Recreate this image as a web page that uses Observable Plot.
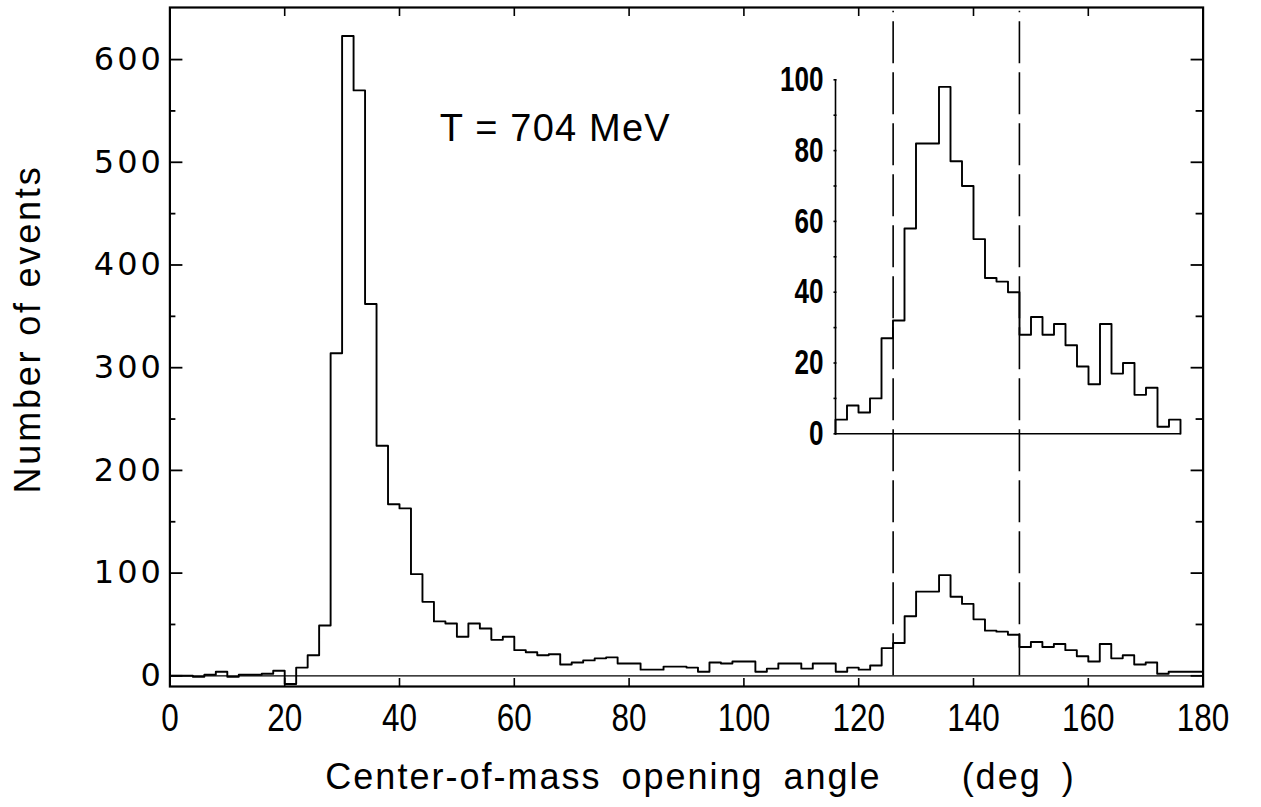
<!DOCTYPE html>
<html><head><meta charset="utf-8">
<script src="https://cdn.jsdelivr.net/npm/d3@7"></script>
<script src="https://cdn.jsdelivr.net/npm/@observablehq/plot@0.6"></script>
<style>
body{margin:0;background:#fff;}
#wrap{position:relative;width:1261px;height:807px;background:#fff;}
#wrap svg{position:absolute;left:0;top:0;}
</style></head><body><div id="wrap"></div>
<script>
// Bin start angles (deg), 2-degree bins
const binStart = [0,2,4,6,8,10,12,14,16,18,20,22,24,26,28,30,32,34,36,38,40,42,44,46,48,50,52,54,56,58,60,62,64,66,68,70,72,74,76,78,80,82,84,86,88,90,92,94,96,98,100,102,104,106,108,110,112,114,116,118,120,122,124,126,128,130,132,134,136,138,140,142,144,146,148,150,152,154,156,158,160,162,164,166,168,170,172,174,176,178];
// Number of events per bin
const counts = [0,0,-1,1,4,-1,1,1,2,5,-8,8,20,49,314,623,570,362,224,167,163,99,72,53,51,38,51,46,35,38,25,23,20,21,11,13,15,17,18,12,12,6,6,9,9,8,4,13,12,14,14,4,7,12,12,7,12,12,4,8,6,10,27,32,58,82,82,98,77,70,55,44,43,40,28,33,28,31,25,19,14,31,17,20,11,13,2,4,4,4];
const binWidth = 2;
const xTicks = [0,20,40,60,80,100,120,140,160,180];
const yTicks = [0,100,200,300,400,500,600];
const yMinorTicks = [50,150,250,350,450,550];
const cutAngles = [126,148];
const insetRange = [116,176];
const insetTicks = [0,20,40,60,80,100];
const insetMinorTicks = [10,30,50,70,90];
const titleText = "T = 704 MeV";
const xTitle = "Center-of-mass opening angle\u00a0\u00a0\u00a0\u00a0(deg\u00a0)";
const yTitle = "Number of events";

function outline(starts, vals, w, closeEnds) {
  const pts = [];
  if (closeEnds) pts.push({x: starts[0], y: 0});
  starts.forEach((s, i) => { pts.push({x: s, y: vals[i]}); pts.push({x: s + w, y: vals[i]}); });
  if (closeEnds) pts.push({x: starts[starts.length - 1] + w, y: 0});
  return pts;
}
const mainPts = outline(binStart, counts, binWidth, false);
const insetIdx = binStart.map((s, i) => i).filter(i => binStart[i] >= insetRange[0] && binStart[i] < insetRange[1]);
const insetPts = outline(insetIdx.map(i => binStart[i]), insetIdx.map(i => counts[i]), binWidth, true);

const sans = "'Liberation Sans', Arial, sans-serif";
const W = 1261, H = 807, mL = 169.4, mR = 58.4, mT = 7, mB = 121;
const fW = W - mL - mR, fH = H - mT - mB;

const main = Plot.plot({
  width: W, height: H, marginLeft: mL, marginRight: mR, marginTop: mT, marginBottom: mB,
  x: {domain: [0, 180]},
  y: {domain: [-10.4, 650.7]},
  style: {background: "transparent", color: "#000"},
  marks: [
    Plot.ruleY([0], {stroke: "#000", strokeWidth: 1.2}),
    Plot.ruleX(cutAngles, {x: d => d, y1: 0, y2: 647, stroke: "#000", strokeWidth: 1.6, strokeDasharray: "42,9"}),
    Plot.line(mainPts, {x: "x", y: "y", stroke: "#000", strokeWidth: 1.9}),
    Plot.frame({stroke: "#000", strokeWidth: 2.2}),
    Plot.tickX(xTicks, {x: d => d, insetTop: fH - 8, stroke: "#000", strokeWidth: 1.6}),
    Plot.tickX(xTicks, {x: d => d, insetBottom: fH - 9, stroke: "#000", strokeWidth: 1.6}),
    Plot.tickY(yTicks, {y: d => d, insetRight: fW - 13, stroke: "#000", strokeWidth: 1.8}),
    Plot.tickY(yMinorTicks, {y: d => d, insetRight: fW - 6, stroke: "#000", strokeWidth: 1.8}),
    Plot.tickY(yTicks, {y: d => d, insetLeft: fW - 12, stroke: "#000", strokeWidth: 1.8}),
    Plot.tickY(yMinorTicks, {y: d => d, insetLeft: fW - 7, stroke: "#000", strokeWidth: 1.8}),
    Plot.axisX(xTicks, {tickSize: 0, tickPadding: 18, fontSize: 38, fontFamily: sans, label: null}),
    Plot.axisY(yTicks, {tickSize: 0, tickPadding: 6, fontSize: 32, fontFamily: "'DejaVu Sans', sans-serif", label: null}),
    Plot.text([titleText], {x: 47, y: 533, text: d => d, textAnchor: "start", fontSize: 38, fontFamily: sans}),
    Plot.text([xTitle], {frameAnchor: "bottom", text: d => d, lineAnchor: "middle", textAnchor: "middle", dy: 91, dx: 14, fontSize: 36, fontFamily: sans}),
    Plot.text([yTitle], {frameAnchor: "left", text: d => d, textAnchor: "middle", lineAnchor: "middle", rotate: -90, dx: -141, dy: -18, fontSize: 36, fontFamily: sans})
  ]
});

const inset = Plot.plot({
  width: W, height: H, marginLeft: 835, marginRight: 81, marginTop: 79.3, marginBottom: 373.7,
  x: {domain: insetRange, axis: null},
  y: {domain: [0, 100]},
  style: {background: "transparent", color: "#000"},
  marks: [
    Plot.ruleY([0], {stroke: "#000", strokeWidth: 1.6}),
    Plot.ruleX([insetRange[0]], {x: d => d, stroke: "#000", strokeWidth: 1.6}),
    Plot.line(insetPts, {x: "x", y: "y", stroke: "#000", strokeWidth: 1.9}),
    Plot.tickY(insetTicks.concat(insetMinorTicks), {y: d => d, insetRight: 345 - 3, dx: -1.5, stroke: "#000", strokeWidth: 1.6}),
    Plot.axisY(insetTicks, {tickSize: 0, tickPadding: 12, fontSize: 35, fontWeight: "bold", fontFamily: sans, label: null})
  ]
});

// typographic tweaks (condensed / spaced lettering as in the original)
const sm = d3.select(main), si = d3.select(inset);
sm.selectAll('g[aria-label="x-axis tick label"] text').each(function() {
  const n = this.textContent.length;
  d3.select(this).attr("textLength", n * 17.5).attr("lengthAdjust", "spacingAndGlyphs");
});
sm.selectAll('g[aria-label="y-axis tick label"] text').style("letter-spacing", "3px");
si.selectAll('g[aria-label="y-axis tick label"] text').each(function() {
  const n = this.textContent.length;
  d3.select(this).attr("textLength", n * 14.5).attr("lengthAdjust", "spacingAndGlyphs");
});
sm.selectAll('g[aria-label="text"] text').each(function() {
  const t = this.textContent;
  if (t === titleText) d3.select(this).style("letter-spacing", "1.2px");
  if (t === yTitle) d3.select(this).style("letter-spacing", "2.8px");
  if (t === xTitle) d3.select(this).style("letter-spacing", "2px").style("word-spacing", "8px");
});

const wrap = document.getElementById("wrap");
wrap.appendChild(main);
wrap.appendChild(inset);
</script></body></html>
